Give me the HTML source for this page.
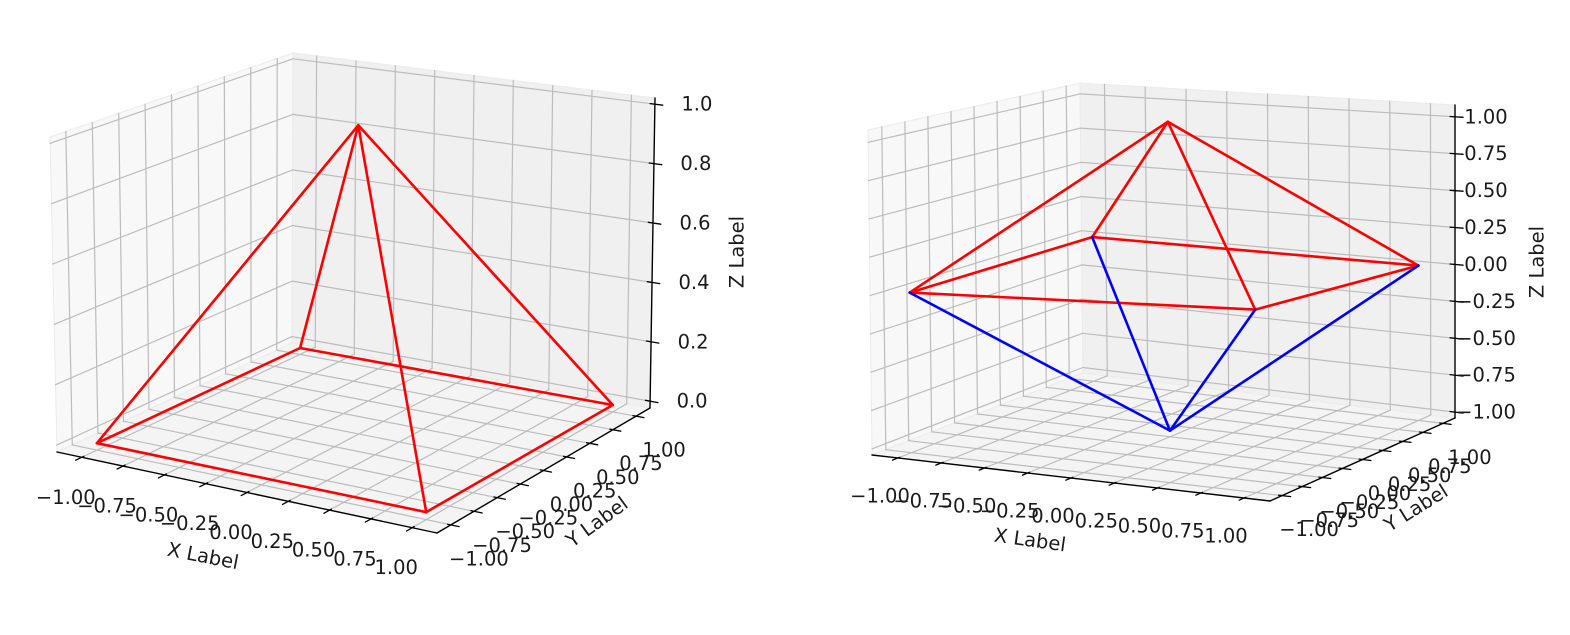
<!DOCTYPE html>
<html><head><meta charset="utf-8"><style>
html,body{margin:0;padding:0;background:#fff;}
svg{display:block;}
text{font-family:"DejaVu Sans","Liberation Sans",sans-serif;font-size:19.5px;fill:#1a1a1a;}
</style></head><body>
<svg id="s" width="1570" height="635" viewBox="0 0 1570 635" xmlns="http://www.w3.org/2000/svg"></svg>
<script>
var S=document.getElementById('s');var out='';
function mk(c){
 function bil(a,u,v){return [(1-u)*(1-v)*a[0][0]+u*(1-v)*a[1][0]+u*v*a[2][0]+(1-u)*v*a[3][0],
  (1-u)*(1-v)*a[0][1]+u*(1-v)*a[1][1]+u*v*a[2][1]+(1-u)*v*a[3][1]];}
 return function(x,y,z){var L=c.L,u=(x+L)/(2*L),v=(y+L)/(2*L),w=(z-c.zmin)/(c.zmax-c.zmin);
  var a=bil(c.floor,u,v),b=bil(c.top,u,v);return [(1-w)*a[0]+w*b[0],(1-w)*a[1]+w*b[1]];};
}
function ln(p,q,col,w){out+='<line x1="'+p[0].toFixed(1)+'" y1="'+p[1].toFixed(1)+'" x2="'+q[0].toFixed(1)+'" y2="'+q[1].toFixed(1)+'" stroke="'+col+'" stroke-width="'+w+'" stroke-linecap="round"/>';}
function poly(pts,fill){out+='<polygon points="'+pts.map(function(p){return p[0].toFixed(1)+','+p[1].toFixed(1)}).join(' ')+'" fill="'+fill+'" stroke="#ebebeb" stroke-width="1"/>';}
function txt(p,s,anchor,rot){var t='<text x="'+p[0].toFixed(1)+'" y="'+p[1].toFixed(1)+'" text-anchor="'+(anchor||'middle')+'" dominant-baseline="central"';
 if(rot)t+=' transform="rotate('+rot+' '+p[0].toFixed(1)+' '+p[1].toFixed(1)+')"';out+=t+'>'+s+'</text>';}
function fmt(v,d){var s=Math.abs(v).toFixed(d);return (v<-1e-9?'\u2212':'')+s;}
function plot(c){
 var P=mk(c),L=c.L,z0=c.zmin,z1=c.zmax;
 poly([P(-L,-L,z0),P(-L,L,z0),P(-L,L,z1),P(-L,-L,z1)],'#f8f8f8');
 poly([P(-L,L,z0),P(L,L,z0),P(L,L,z1),P(-L,L,z1)],'#f0f0f0');
 poly([P(-L,-L,z0),P(L,-L,z0),P(L,L,z0),P(-L,L,z0)],'#f4f4f4');
 var g='#bcbcbc',gw=1.2;
 c.xt.forEach(function(x){ln(P(x,-L,z0),P(x,L,z0),g,gw);ln(P(x,L,z0),P(x,L,z1),g,gw);});
 c.xt.forEach(function(y){ln(P(-L,y,z0),P(L,y,z0),g,gw);ln(P(-L,y,z0),P(-L,y,z1),g,gw);});
 c.zt.forEach(function(z){ln(P(-L,L,z),P(L,L,z),g,gw);ln(P(-L,-L,z),P(-L,L,z),g,gw);});
 ln(P(-L,-L,z0),P(L,-L,z0),'#000',1.4);
 ln(P(L,-L,z0),P(L,L,z0),'#000',1.4);
 ln(P(L,L,z0),P(L,L,z1),'#000',1.4);
 c.xt.forEach(function(x){ln(P(x,-L+0.02,z0),P(x,-L-0.06,z0),'#000',1.3);
  var p=P(x,-L,z0);txt([p[0]+c.xo[0],p[1]+c.xo[1]],fmt(x,2));});
 c.xt.forEach(function(y){ln(P(L-0.02,y,z0),P(L+0.05,y,z0),'#000',1.3);
  var p=P(L,y,z0);txt([p[0]+c.yo[0],p[1]+c.yo[1]],fmt(y,2));});
 c.zt.forEach(function(z){ln(P(L-0.03,L,z),P(L+0.05,L,z),'#000',1.3);
  var p=P(L,L,z);txt([p[0]+c.zo,p[1]],fmt(z,c.zd));});
 txt(c.xl,'X Label','middle',c.xr);txt(c.yl,'Y Label','middle',c.yr);txt(c.zl,'Z Label','middle',-90);
 c.edges.forEach(function(e){ln(P.apply(null,e[0]),P.apply(null,e[1]),e[2],2.6);});
}
var xt=[-1,-0.75,-0.5,-0.25,0,0.25,0.5,0.75,1];
var R='#ff0000',B='#0000ff';
plot({L:1.15,zmin:-0.023,zmax:1.021,
 floor:[[57,452],[437,533],[650,408],[292,343]],top:[[50,137],[435,188],[655,98],[293,53]],
 xt:xt,zt:[0,0.2,0.4,0.6,0.8,1],zd:1,xo:[-16,40],yo:[28,34],zo:42,
 xl:[203,556],xr:11,yl:[597,522],yr:-36,zl:[737,252],
 edges:[[[-1,-1,0],[1,-1,0],R],[[1,-1,0],[1,1,0],R],[[1,1,0],[-1,1,0],R],[[-1,1,0],[-1,-1,0],R],
  [[0,0,1],[-1,-1,0],R],[[0,0,1],[1,-1,0],R],[[0,0,1],[1,1,0],R],[[0,0,1],[-1,1,0],R]]});
plot({L:1.15,zmin:-1.04,zmax:1.08,
 floor:[[872,455],[1270,501],[1455,418],[1083,373]],top:[[868,130],[1268,120],[1455,105],[1080,83]],
 xt:xt,zt:[-1,-0.75,-0.5,-0.25,0,0.25,0.5,0.75,1],zd:2,xo:[-18,38],yo:[27,34],zo:31,
 xl:[1030,540],xr:8,yl:[1416,508],yr:-32,zl:[1537,262],
 edges:[[[-1,-1,0],[-1,1,0],R],[[-1,1,0],[1,1,0],R],[[1,1,0],[1,-1,0],R],[[1,-1,0],[-1,-1,0],R],
  [[0,0,1],[-1,-1,0],R],[[0,0,1],[1,-1,0],R],[[0,0,1],[1,1,0],R],[[0,0,1],[-1,1,0],R],
  [[0,0,-1],[-1,-1,0],B],[[0,0,-1],[1,-1,0],B],[[0,0,-1],[1,1,0],B],[[0,0,-1],[-1,1,0],B]]});
S.innerHTML=out;
</script>
</body></html>
